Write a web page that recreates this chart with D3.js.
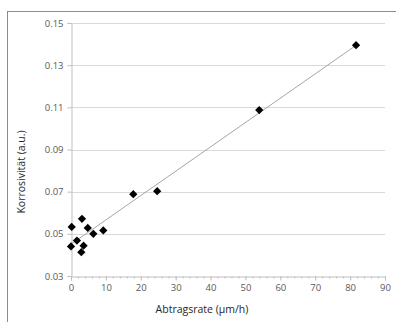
<!DOCTYPE html>
<html>
<head>
<meta charset="utf-8">
<script src="https://cdn.jsdelivr.net/npm/d3@7"></script>
<style>
  html, body { margin: 0; padding: 0; background: #fff; }
  svg { display: block; font-family: "Open Sans", "Noto Sans", sans-serif; }
</style>
</head>
<body>
<svg id="chart" width="396" height="322"></svg>
<script>
// values
const abtragsrate = [0, 0.2, 1.7, 3.15, 2.95, 3.6, 4.8, 6.4, 9.25, 17.85, 24.7, 53.95, 81.7];
const korrosivitaet = [0.044, 0.0533, 0.0468, 0.0571, 0.0413, 0.0444, 0.0528, 0.050, 0.0516, 0.0688, 0.0702, 0.1087, 0.1395];
const xTicks = [0, 10, 20, 30, 40, 50, 60, 70, 80, 90];
const yTicks = [0.03, 0.05, 0.07, 0.09, 0.11, 0.13, 0.15];

const W = 396, H = 322;
const plot = { left: 71, right: 385, top: 23, bottom: 276 };

const svg = d3.select("#chart");

// chart area frame (runs off the right/bottom edge)
svg.append("rect")
  .attr("x", 7.5).attr("y", 11.5)
  .attr("width", W + 10).attr("height", H + 10)
  .attr("fill", "none").attr("stroke", "#8c8c8c").attr("stroke-width", 1);

const x = d3.scaleLinear().domain([0, 90]).range([plot.left, plot.right]);
const y = d3.scaleLinear().domain([0.03, 0.15]).range([plot.bottom, plot.top]);

// gridlines
svg.append("g").selectAll("line")
  .data(yTicks.slice(1)).join("line")
  .attr("x1", plot.left).attr("x2", plot.right)
  .attr("y1", d => Math.round(y(d)) + 0.5).attr("y2", d => Math.round(y(d)) + 0.5)
  .attr("stroke", "#d9d9d9").attr("stroke-width", 1);

// y axis
const yAxis = svg.append("g")
  .attr("transform", `translate(${plot.left + 0.5},0)`)
  .call(d3.axisLeft(y).tickValues(yTicks).tickFormat(d3.format(".2f")).tickSize(4).tickPadding(4));
yAxis.select(".domain").attr("stroke", "#bfbfbf");
yAxis.selectAll(".tick line").attr("stroke", "#bfbfbf");
yAxis.selectAll(".tick text").attr("fill", "#595959").attr("font-size", "9.5px")
  .attr("font-family", "Open Sans, sans-serif");

// x axis, minor ticks every 2
const xMinor = svg.append("g")
  .attr("transform", `translate(0,${plot.bottom + 0.5})`)
  .call(d3.axisBottom(x).ticks(45).tickFormat("").tickSize(2));
xMinor.select(".domain").remove();
xMinor.selectAll(".tick line").attr("stroke", "#bfbfbf");

const xAxis = svg.append("g")
  .attr("transform", `translate(0,${plot.bottom + 0.5})`)
  .call(d3.axisBottom(x).tickValues(xTicks).tickFormat(d3.format("d")).tickSize(4).tickPadding(4));
xAxis.select(".domain").attr("stroke", "#bfbfbf");
xAxis.selectAll(".tick line").attr("stroke", "#bfbfbf");
xAxis.selectAll(".tick text").attr("fill", "#595959").attr("font-size", "9.5px")
  .attr("font-family", "Open Sans, sans-serif");

// linear trendline (least squares over the points)
const pts = abtragsrate.map((v, i) => ({ x: v, y: korrosivitaet[i] }));
const mx = d3.mean(pts, d => d.x), my = d3.mean(pts, d => d.y);
const slope = d3.sum(pts, d => (d.x - mx) * (d.y - my)) / d3.sum(pts, d => (d.x - mx) ** 2);
const icpt = my - slope * mx;
const [x0, x1] = d3.extent(abtragsrate);
svg.append("line")
  .attr("x1", x(x0)).attr("y1", y(icpt + slope * x0))
  .attr("x2", x(x1)).attr("y2", y(icpt + slope * x1))
  .attr("stroke", "#a6a6a6").attr("stroke-width", 1);

// diamond markers
const diamond = d3.symbol().type(d3.symbolSquare).size(34);
svg.append("g").selectAll("path")
  .data(pts).join("path")
  .attr("d", diamond)
  .attr("transform", d => `translate(${x(d.x)},${y(d.y)}) rotate(45)`)
  .attr("fill", "#000");

// axis titles
svg.append("text")
  .attr("x", 202).attr("y", 313)
  .attr("text-anchor", "middle")
  .attr("font-size", "10.5px").attr("fill", "#262626")
  .text("Abtragsrate (µm/h)");

svg.append("text")
  .attr("transform", "translate(25,172) rotate(-90)")
  .attr("text-anchor", "middle")
  .attr("font-size", "10.5px").attr("fill", "#262626")
  .text("Korrosivität (a.u.)");
</script>
</body>
</html>
